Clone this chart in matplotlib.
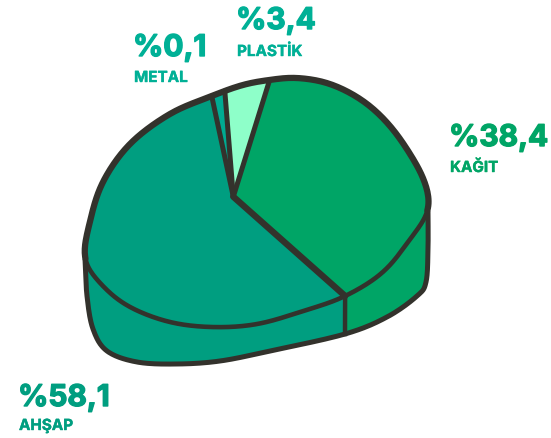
import numpy as np
import matplotlib
matplotlib.use("Agg")
import matplotlib.pyplot as plt
import matplotlib.patheffects as pe

plt.rcParams["font.family"] = ["Inter", "DejaVu Sans"]

# shares, clockwise from the top of the pie
categories = ["KAĞIT", "AHŞAP", "METAL", "PLASTİK"]
values = [38.4, 58.1, 0.1, 3.4]
value_labels = ["%38,4", "%58,1", "%0,1", "%3,4"]

colors = ["#00a566", "#009e80", "#00ab92", "#8effc9"]
text_colors = ["#00a566", "#009e80", "#00b096", "#00b096"]
value_pos = [(449, 147), (18, 407), (133, 57), (236, 30)]
name_pos = [(450, 173), (19, 431), (134, 83), (237, 57)]
line_color = "#33322c"

# the pie is hand drawn: centre, rim and base in picture pixels
center = np.array([233.3, 197.7])
rim_x = [85, 90, 103, 130, 170, 212, 243, 270, 297, 330, 363, 390, 413, 426, 428, 410, 383, 345,
         303, 257, 213, 170, 130, 103]
rim_y = [260, 223, 183, 145, 115, 97, 86, 81, 79, 85, 102, 127, 160, 187, 212, 240, 273, 297,
         312, 325, 328, 323, 308, 287]
base_x = [85, 87, 93, 107, 137, 177, 220, 270, 345, 387, 417, 426, 428, 428]
base_y = [260, 297, 330, 352, 363, 365, 362, 352, 335, 318, 297, 283, 250, 212]

# picture angle (clockwise from top) of each slice boundary, the drawing is not to scale
boundary_angles = np.array([17.3, 131.6, 347.9, 355.4, 377.3])
right_corner, left_corner = 94.1, 247.2


def smooth(xs, ys, closed=False, n=24):
    pts = np.column_stack([xs, ys]).astype(float)
    if closed:
        pts = np.vstack([pts[-1], pts, pts[0], pts[1]])
    else:
        pts = np.vstack([pts[0], pts, pts[-1]])
    out = []
    for p0, p1, p2, p3 in zip(pts[:-3], pts[1:-2], pts[2:-1], pts[3:]):
        t = np.linspace(0, 1, n, endpoint=False)[:, None]
        out.append(0.5 * (2 * p1 + (p2 - p0) * t + (2 * p0 - 5 * p1 + 4 * p2 - p3) * t ** 2
                          + (3 * p1 - p0 - 3 * p2 + p3) * t ** 3))
    out = np.vstack(out)
    return np.vstack([out, pts[-2]]) if not closed else out


rim = smooth(rim_x, rim_y, closed=True)
rim_angle = np.degrees(np.arctan2(rim[:, 0] - center[0], center[1] - rim[:, 1])) % 360
rim_radius = np.hypot(*(rim - center).T)
order = np.argsort(rim_angle)
rim_angle, rim_radius = rim_angle[order], rim_radius[order]

# take the wobble out of the read-off rim, circular moving average over 7 degrees
grid = np.arange(0, 360, 0.5)
r_grid = np.interp(grid, rim_angle, rim_radius, period=360)
kernel = np.ones(15) / 15
r_grid = np.convolve(np.concatenate([r_grid[-30:], r_grid, r_grid[:30]]), kernel, mode="same")[30:-30]


def rim_points(a1, a2):
    a = np.linspace(a1, a2, 300)
    r = np.interp(a % 360, grid, r_grid, period=360)
    return np.column_stack([center[0] + r * np.sin(np.radians(a)), center[1] - r * np.cos(np.radians(a))])


# cumulative shares set the slice boundaries through the picture's own angle scale
cum = np.concatenate([[0], np.cumsum(values)]) / np.sum(values)
edges = np.interp(cum, cum, boundary_angles)

fig = plt.figure(figsize=(5.51, 4.39), dpi=100)
ax = fig.add_axes([0, 0, 1, 1])
ax.set_xlim(0, 551)
ax.set_ylim(439, 0)
ax.axis("off")

base = smooth(base_x, base_y)
split = rim_points(edges[1], edges[1])[0]
cut = np.argmin(np.abs(base[:, 0] - split[0]))
base[0] = rim_points(left_corner, left_corner)[0]
base[-1] = rim_points(right_corner, right_corner)[0]

# side walls
wall_a = np.vstack([rim_points(left_corner, edges[1]), base[:cut + 1][::-1]])
wall_k = np.vstack([rim_points(right_corner, edges[1]), base[cut:]])
ax.fill(wall_a[:, 0], wall_a[:, 1], color=colors[1], lw=0, zorder=1)
ax.fill(wall_k[:, 0], wall_k[:, 1], color=colors[0], lw=0, zorder=1)
ax.plot(base[:, 0], base[:, 1], color=line_color, lw=3.6, solid_capstyle="round", zorder=2)
ax.plot([split[0], base[cut, 0]], [split[1], base[cut, 1]], color=line_color, lw=3.2, zorder=2)

# top slices
for i, color in enumerate(colors):
    arc = rim_points(edges[i], edges[i + 1])
    poly = np.vstack([center, arc])
    ax.fill(poly[:, 0], poly[:, 1], facecolor=color, edgecolor="none", zorder=3)

# back of the rim is heavier than the front
back = rim_points(left_corner, right_corner + 360)
front = rim_points(right_corner, left_corner)
ax.plot(back[:, 0], back[:, 1], color=line_color, lw=4.5, solid_capstyle="round", zorder=5)
ax.plot(front[:, 0], front[:, 1], color=line_color, lw=3.3, solid_capstyle="round", zorder=5)
for i, a in enumerate(edges[:-1]):
    end = rim_points(a, a)[0]
    lw = 4.6 if i == 1 else 3.6
    ax.plot([center[0], end[0]], [center[1], end[1]], color=line_color, lw=lw,
            solid_capstyle="round", zorder=4)

for name, val, vp, np_, c in zip(categories, value_labels, value_pos, name_pos, text_colors):
    t = ax.text(vp[0], vp[1], val, color=c, fontsize=21.5, fontweight="bold", ha="left", va="baseline")
    t.set_path_effects([pe.withStroke(linewidth=1.0, foreground=c)])
    t = ax.text(np_[0], np_[1], name, color=c, fontsize=11, fontweight="bold", ha="left", va="baseline")
    t.set_path_effects([pe.withStroke(linewidth=0.3, foreground=c)])

fig.savefig("out.png", dpi=100)
